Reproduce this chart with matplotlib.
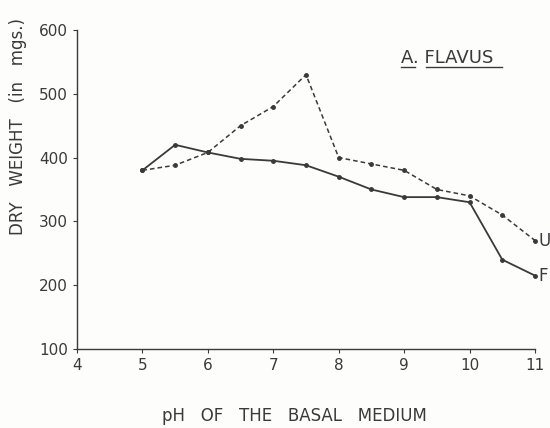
import matplotlib.pyplot as plt
from matplotlib.lines import Line2D

# pH of the basal medium
ph = [5, 5.5, 6, 6.5, 7, 7.5, 8, 8.5, 9, 9.5, 10, 10.5, 11]
# dry weight (mg)
weight_f = [380, 420, 408, 398, 395, 388, 370, 350, 338, 338, 330, 240, 215]
weight_u = [380, 388, 408, 450, 480, 530, 400, 390, 380, 350, 340, 310, 270]
x_ticks = [4, 5, 6, 7, 8, 9, 10, 11]
y_ticks = [100, 200, 300, 400, 500, 600]

ink = "#3a3a3a"
plt.rcParams["font.family"] = ["DejaVu Sans"]

fig = plt.figure(figsize=(5.5, 4.28), dpi=100)
fig.patch.set_facecolor("#fdfdfb")
ax = fig.add_axes([0.14, 0.1846, 0.8327, 0.7454])
ax.set_facecolor("#fdfdfb")

ax.plot(ph, weight_f, color=ink, lw=1.3, marker="o", ms=2.5, clip_on=False)
ax.plot(ph, weight_u, color=ink, lw=1.1, ls=(0, (3, 2)), marker="o", ms=2.5,
        clip_on=False)

ax.set_xlim(4, 11)
ax.set_ylim(100, 600)
ax.set_xticks(x_ticks)
ax.set_yticks(y_ticks)
ax.tick_params(colors=ink, labelcolor=ink, labelsize=11, length=3, width=0.8)
for s in ("top", "right"):
    ax.spines[s].set_visible(False)
for s in ("left", "bottom"):
    ax.spines[s].set_color(ink)
    ax.spines[s].set_linewidth(1.0)

ax.text(11.05, weight_u[-1], "U", color=ink, fontsize=12, va="center", ha="left")
ax.text(11.05, weight_f[-1], "F", color=ink, fontsize=12, va="center", ha="left")

fig.text(0.033, 0.705, "DRY   WEIGHT   (in   mgs.)", rotation=90, color=ink,
         fontsize=12, ha="center", va="center")
fig.text(0.535, 0.028, "pH   OF   THE   BASAL   MEDIUM", color=ink,
         fontsize=12, ha="center", va="center")

fig.text(0.729, 0.853, "A. FLAVUS", color=ink, fontsize=13, ha="left",
         va="baseline")
fig.add_artist(Line2D([0.729, 0.755], [0.843, 0.843], color=ink, lw=1.0))
fig.add_artist(Line2D([0.775, 0.913], [0.843, 0.843], color=ink, lw=1.0))

fig.savefig("out.png", dpi=100, facecolor=fig.get_facecolor())
